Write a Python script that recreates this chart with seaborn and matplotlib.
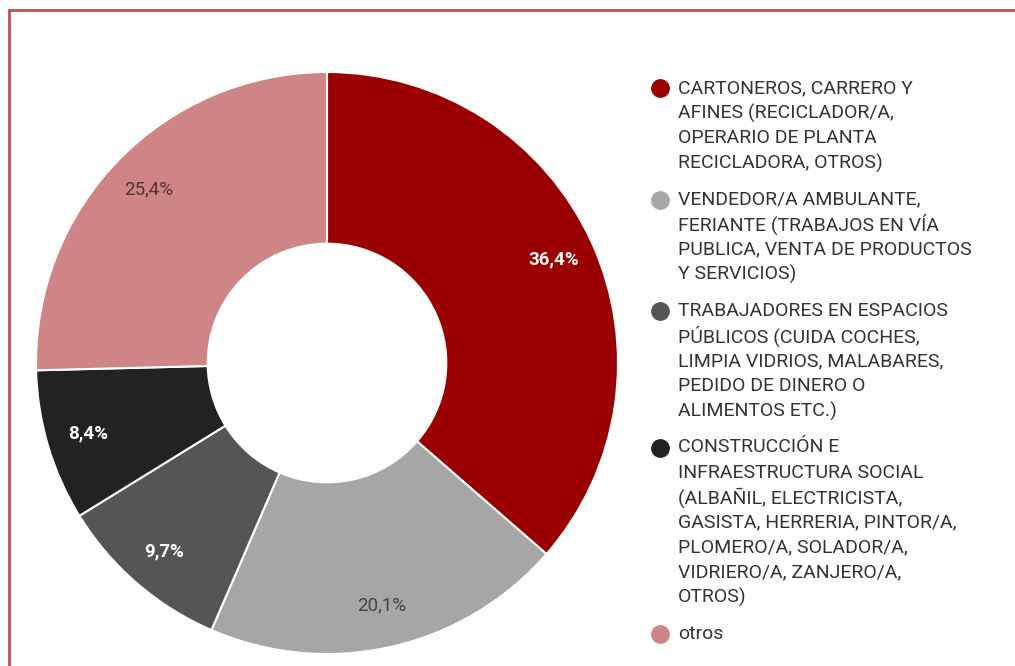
import numpy as np
import pandas as pd
import seaborn as sns
import matplotlib.pyplot as plt
from matplotlib.lines import Line2D

# data
categorias = [
    "CARTONEROS, CARRERO Y\nAFINES (RECICLADOR/A,\nOPERARIO DE PLANTA\nRECICLADORA, OTROS)",
    "VENDEDOR/A AMBULANTE,\nFERIANTE (TRABAJOS EN VÍA\nPUBLICA, VENTA DE PRODUCTOS\nY SERVICIOS)",
    "TRABAJADORES EN ESPACIOS\nPÚBLICOS (CUIDA COCHES,\nLIMPIA VIDRIOS, MALABARES,\nPEDIDO DE DINERO O\nALIMENTOS ETC.)",
    "CONSTRUCCIÓN E\nINFRAESTRUCTURA SOCIAL\n(ALBAÑIL, ELECTRICISTA,\nGASISTA, HERRERIA, PINTOR/A,\nPLOMERO/A, SOLADOR/A,\nVIDRIERO/A, ZANJERO/A,\nOTROS)",
    "otros",
]
porcentajes = [36.4, 20.1, 9.7, 8.4, 25.4]
colores = ["#9a0000", "#a6a6a6", "#555555", "#222222", "#cf8585"]
etiqueta_color = ["white", "#444444", "white", "white", "#553333"]
etiqueta_peso = ["bold", "normal", "bold", "bold", "normal"]

df = pd.DataFrame({"cat": categorias, "pct": porcentajes})

sns.set_theme(style="white")
plt.rcParams['font.family'] = ['Roboto', 'DejaVu Sans']

fig = plt.figure(figsize=(10.15, 6.66), dpi=100)
W, H = 1015, 666

# pie axes: center (327, 363) px, radius 291 px
cx, cy, r = 327, 363, 291
ax = fig.add_axes([(cx - r) / W, (H - cy - r) / H, 2 * r / W, 2 * r / H])

wedges, _ = ax.pie(df["pct"], colors=sns.color_palette(colores), startangle=90,
                   counterclock=False, radius=1,
                   wedgeprops=dict(width=0.59, edgecolor="white", linewidth=1.5))
ax.set_xlim(-1, 1)
ax.set_ylim(-1, 1)
ax.set_aspect("equal")
ax.axis("off")

# percentage labels
ang0 = 90
for i, p in enumerate(df["pct"]):
    mid = ang0 - (sum(porcentajes[:i]) + p / 2) * 3.6
    x = 0.855 * np.cos(np.radians(mid))
    y = 0.855 * np.sin(np.radians(mid))
    ax.text(x, y, f"{p:.1f}%".replace(".", ","), ha="center", va="center",
            fontsize=13.5, color=etiqueta_color[i], fontweight=etiqueta_peso[i])

# legend, laid out by hand so the dots sit on the first line
lh, gap = 25, 11.5
y = 88
for cat, c in zip(df["cat"], colores):
    fig.add_artist(Line2D([660 / W], [(H - y) / H], marker="o", linestyle="",
                          markersize=12.5, markerfacecolor=c, markeredgecolor=c))
    lineas = cat.split("\n")
    for k, ln in enumerate(lineas):
        fig.text(678 / W, (H - y - k * lh) / H, ln, ha="left", va="center",
                 fontsize=14, color="#333333")
    y += len(lineas) * lh + gap

# the red frame lines of the screenshot (top and left only)
fig.add_artist(Line2D([9 / W, 1], [(H - 10) / H, (H - 10) / H], color="#c0504d", lw=2))
fig.add_artist(Line2D([9 / W, 9 / W], [0, (H - 10) / H], color="#c0504d", lw=2))

fig.savefig("out.png", dpi=100)
